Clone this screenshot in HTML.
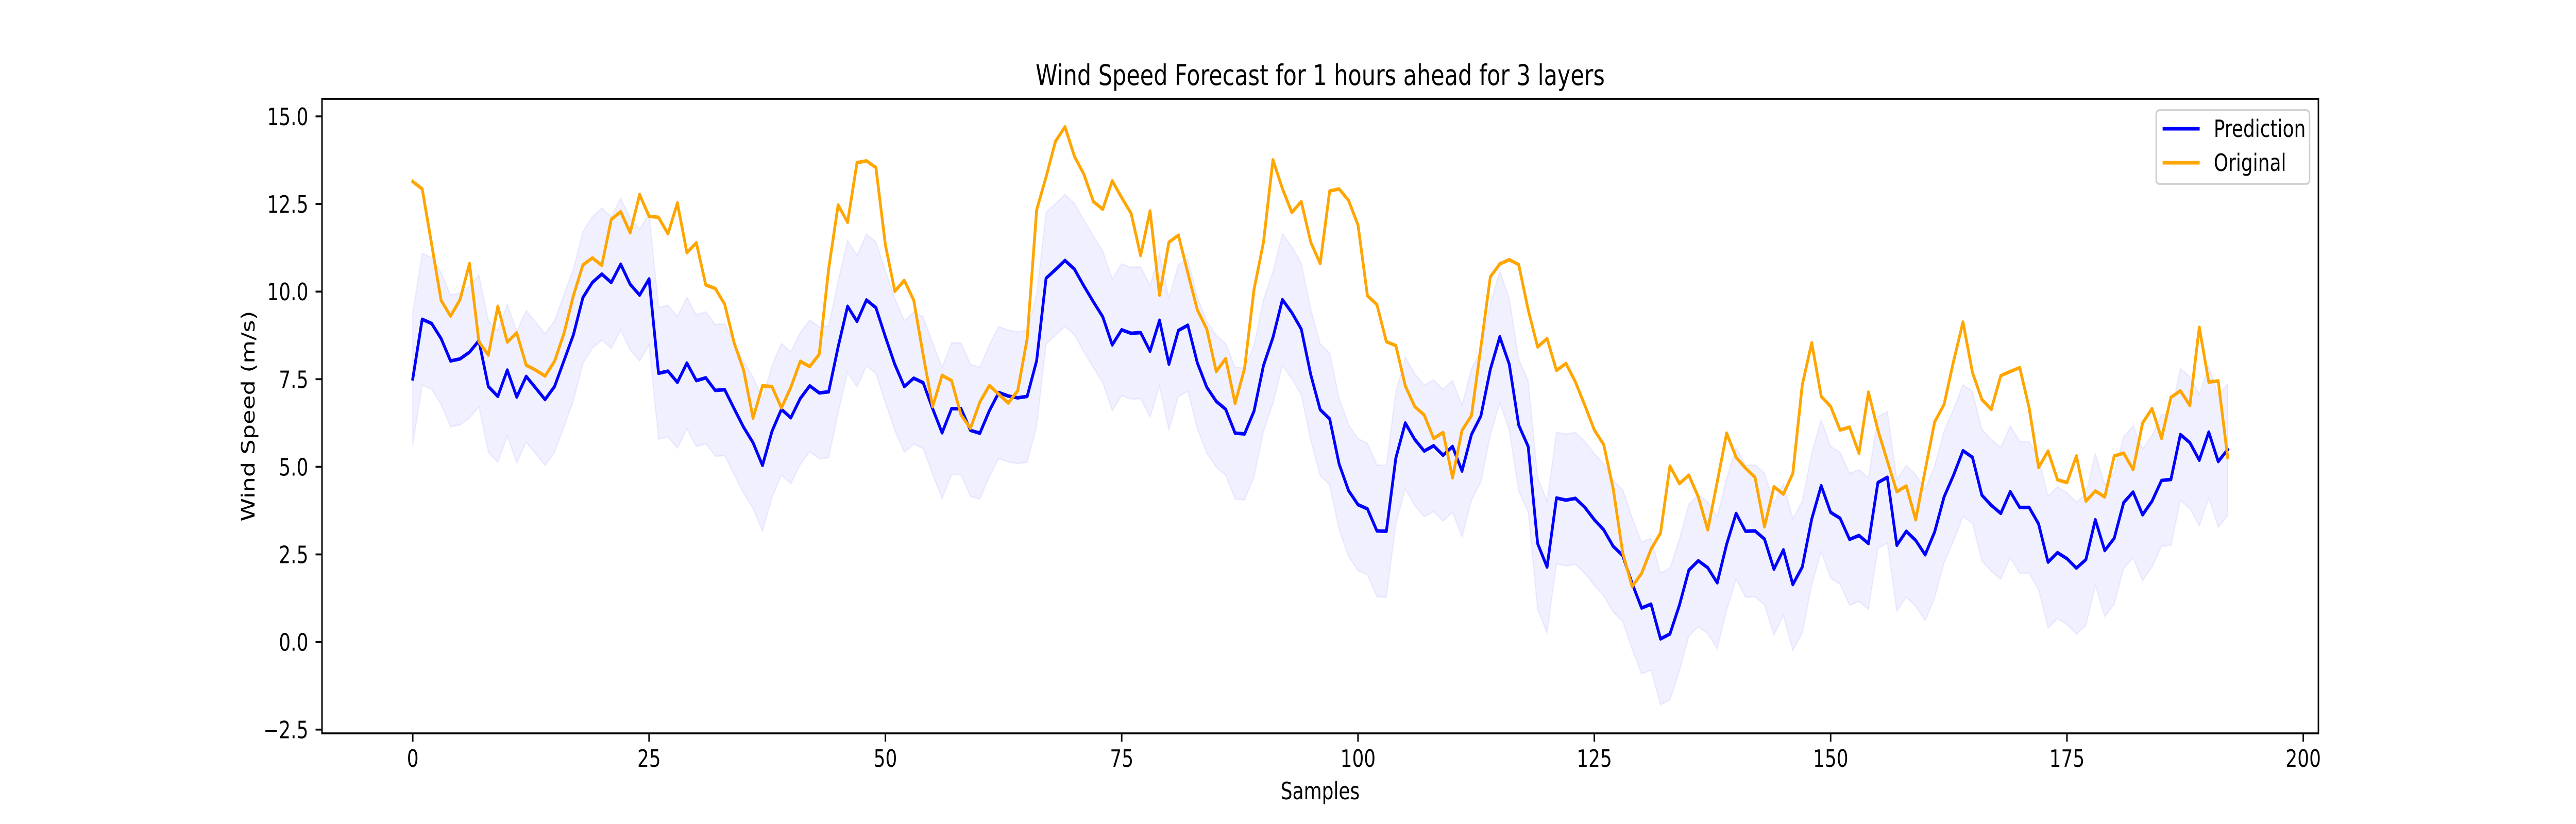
<!DOCTYPE html>
<html>
<head>
<meta charset="utf-8">
<meta name="viewport" content="width=6400, height=1600, initial-scale=1">
<style>
  html,body{margin:0;padding:0;background:#fff;width:100vw;height:100vh;overflow:hidden;}
  svg{display:block;position:absolute;left:0;top:0;width:100vw;height:100vh;}
  text{font-family:"DejaVu Sans","Liberation Sans",sans-serif;fill:#000;}
</style>
</head>
<body>
<svg id="chart" viewBox="0 0 6400 1600" preserveAspectRatio="none" xmlns="http://www.w3.org/2000/svg">
  <rect x="0" y="0" width="6400" height="1600" fill="#ffffff"/>
  <g id="plot"></g>
  <rect x="800" y="192" width="4960" height="1232" fill="none" stroke="#000" stroke-width="3.7"/>
  <g id="ticks"></g>
  <text x="3280" y="165" font-size="55" text-anchor="middle">Wind Speed Forecast for 1 hours ahead for 3 layers</text>
  <text x="3280" y="1552" font-size="46" text-anchor="middle">Samples</text>
  <text x="0" y="0" font-size="46" text-anchor="middle" transform="translate(632,808) rotate(-90)">Wind Speed (m/s)</text>
  <g>
    <rect x="5357" y="214" width="381" height="143" rx="8" fill="#fff" fill-opacity="0.8" stroke="#d0d0d0" stroke-width="3.7"/>
    <line x1="5373" y1="250" x2="5465" y2="250" stroke="#0000ff" stroke-width="6.9"/>
    <text x="5500" y="266" font-size="46">Prediction</text>
    <line x1="5373" y1="316" x2="5465" y2="316" stroke="#ffa500" stroke-width="6.9"/>
    <text x="5500" y="332" font-size="46">Original</text>
  </g>
</svg>
<script>
const prediction = [7.51,9.21,9.09,8.66,8.02,8.08,8.27,8.60,7.29,7.01,7.76,6.99,7.58,7.25,6.92,7.29,8.03,8.77,9.83,10.26,
10.50,10.26,10.78,10.21,9.90,10.36,7.67,7.73,7.41,7.96,7.46,7.54,7.18,7.20,6.66,6.13,5.69,5.04,6.01,6.64,
6.40,6.95,7.31,7.11,7.14,8.42,9.58,9.15,9.76,9.54,8.71,7.92,7.29,7.53,7.40,6.66,5.97,6.66,6.66,6.04,
5.96,6.60,7.12,7.02,6.97,7.01,8.03,10.38,10.63,10.89,10.64,10.16,9.71,9.28,8.48,8.91,8.81,8.83,8.30,9.18,
7.93,8.89,9.04,7.97,7.27,6.87,6.64,5.96,5.94,6.59,7.89,8.69,9.77,9.40,8.93,7.63,6.63,6.37,5.08,4.32,
3.92,3.80,3.17,3.16,5.25,6.25,5.78,5.45,5.60,5.33,5.58,4.88,5.92,6.45,7.78,8.71,7.93,6.19,5.58,2.81,
2.14,4.11,4.05,4.10,3.84,3.49,3.20,2.73,2.47,1.67,0.97,1.08,0.09,0.23,1.05,2.05,2.32,2.12,1.69,2.79,
3.67,3.16,3.17,2.94,2.08,2.63,1.64,2.14,3.51,4.46,3.70,3.53,2.93,3.04,2.81,4.55,4.70,2.76,3.16,2.90,
2.49,3.14,4.14,4.76,5.46,5.27,4.19,3.90,3.67,4.29,3.84,3.84,3.37,2.28,2.55,2.38,2.11,2.35,3.49,2.61,
2.96,3.98,4.28,3.63,4.02,4.61,4.64,5.92,5.69,5.19,5.99,5.15,5.49];
const original = [13.14,12.93,11.35,9.75,9.30,9.77,10.80,8.57,8.19,9.58,8.56,8.82,7.90,7.76,7.59,8.01,8.81,9.89,10.76,10.96,
10.75,12.06,12.28,11.68,12.77,12.15,12.12,11.65,12.53,11.11,11.39,10.19,10.09,9.64,8.54,7.76,6.39,7.31,7.29,6.68,
7.27,8.01,7.86,8.21,10.65,12.47,11.98,13.68,13.73,13.54,11.33,10.01,10.32,9.75,8.19,6.72,7.61,7.46,6.48,6.10,
6.85,7.32,7.07,6.82,7.17,8.66,12.33,13.27,14.29,14.70,13.86,13.35,12.57,12.35,13.16,12.68,12.23,11.03,12.30,9.90,
11.41,11.61,10.53,9.48,8.93,7.72,8.09,6.81,7.81,10.06,11.41,13.76,12.94,12.26,12.57,11.41,10.80,12.87,12.93,12.60,
11.90,9.88,9.63,8.57,8.46,7.31,6.72,6.48,5.81,5.98,4.69,6.04,6.46,8.42,10.42,10.79,10.91,10.77,9.48,8.42,
8.66,7.75,7.95,7.42,6.75,6.05,5.63,4.37,2.55,1.58,1.96,2.65,3.11,5.02,4.52,4.76,4.14,3.20,4.57,5.96,
5.27,4.96,4.70,3.29,4.43,4.22,4.81,7.34,8.54,7.01,6.72,6.05,6.13,5.39,7.13,6.05,5.16,4.29,4.45,3.49,
4.90,6.28,6.78,8.01,9.13,7.69,6.92,6.64,7.60,7.72,7.83,6.68,4.98,5.45,4.63,4.55,5.31,4.02,4.31,4.14,
5.31,5.39,4.92,6.25,6.66,5.81,6.98,7.17,6.75,8.98,7.42,7.45,5.27];
const bandHalfWidth = [1.88];
const xTicks = [0,25,50,75,100,125,150,175,200];
const yTicks = [-2.5,0,2.5,5,7.5,10,12.5,15];
const yTickLabels = ["\u22122.5","0.0","2.5","5.0","7.5","10.0","12.5","15.0"];

const NS = "http://www.w3.org/2000/svg";
const AX = {left:800, right:5760, top:192, bottom:1424};
const XMIN = -9.6, XMAX = 201.6, YMIN = -2.607, YMAX = 15.50;
function xs(v){ return AX.left + (v - XMIN) / (XMAX - XMIN) * (AX.right - AX.left); }
function ys(v){ return AX.bottom - (v - YMIN) / (YMAX - YMIN) * (AX.bottom - AX.top); }
function mk(tag, attrs){ const e = document.createElementNS(NS, tag); for (const k in attrs) e.setAttribute(k, attrs[k]); return e; }

const plot = document.getElementById('plot');
const hw = bandHalfWidth[0];

let up = prediction.map((v,i)=> xs(i).toFixed(1)+","+ys(v+hw).toFixed(1));
let lo = prediction.map((v,i)=> xs(i).toFixed(1)+","+ys(v-hw).toFixed(1)).reverse();
const band = mk('polygon', {points: up.concat(lo).join(' '), fill:'rgba(0,0,255,0.06)', stroke:'rgba(0,0,255,0.06)', 'stroke-width':'3'});


plot.appendChild(band);

const predLine = mk('polyline', {points: prediction.map((v,i)=> xs(i).toFixed(1)+","+ys(v).toFixed(1)).join(' '), fill:'none', stroke:'#0000ff', 'stroke-width':'6.9', 'stroke-linejoin':'round', 'stroke-linecap':'square'});


plot.appendChild(predLine);

const origLine = mk('polyline', {points: original.map((v,i)=> xs(i).toFixed(1)+","+ys(v).toFixed(1)).join(' '), fill:'none', stroke:'#ffa500', 'stroke-width':'6.9', 'stroke-linejoin':'round', 'stroke-linecap':'square'});


plot.appendChild(origLine);

const ticks = document.getElementById('ticks');
xTicks.forEach((t)=>{
  const x = xs(t);
  const l = mk('line', {x1:x, y1:AX.bottom, x2:x, y2:AX.bottom+16, stroke:'#000', 'stroke-width':'3.7'});
  
  
  ticks.appendChild(l);
  const tx = mk('text', {x:x, y:1489, 'font-size':'46', 'text-anchor':'middle'});
  tx.textContent = String(t);
  
  
  ticks.appendChild(tx);
});
yTicks.forEach((t,i)=>{
  const y = ys(t);
  const l = mk('line', {x1:AX.left-16, y1:y, x2:AX.left, y2:y, stroke:'#000', 'stroke-width':'3.7'});
  
  
  ticks.appendChild(l);
  const tx = mk('text', {x:766, y:y+17, 'font-size':'46', 'text-anchor':'end'});
  tx.textContent = yTickLabels[i];
  
  
  ticks.appendChild(tx);
});
</script>
</body>
</html>
